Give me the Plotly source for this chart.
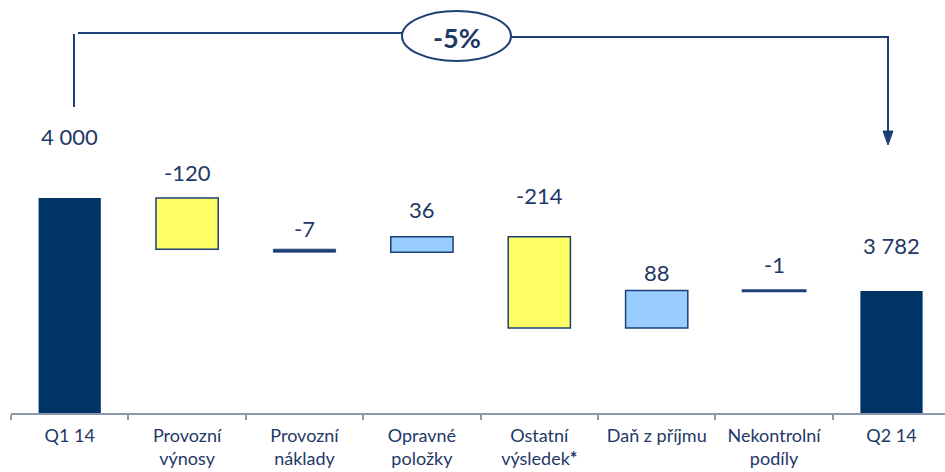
import plotly.graph_objects as go

# Waterfall data: opening balance, changes, closing balance
categories = ["Q1 14", "Provozní<br>výnosy", "Provozní<br>náklady", "Opravné<br>položky",
              "Ostatní<br>výsledek<b>*</b>", "Daň z příjmu", "Nekontrolní<br>podíly", "Q2 14"]
start_value = 4000
changes = [-120, -7, 36, -214, 88, -1]
end_value = 3782
change_label = "-5%"

# Label offsets above each bar top, in pixels
label_shift = [61, 25, 21, 27, 41, 18, 26, 45]

NAVY = "#003366"
TEXT = "#1f3868"
LINE = "#1c3f75"
AXIS = "#8d96ab"
YELLOW = "#ffff66"
LIGHTBLUE = "#99ccff"
FONT = "Lato"

W, H = 945, 472
ML, MB = 11, 59
PW, PH = W - ML, H - MB

# running totals for floating bars
bases = []
running = start_value
for d in changes:
    bases.append(running)
    running += d

fig = go.Figure()

# opening and closing totals
fig.add_trace(go.Bar(
    x=[categories[0], categories[-1]],
    y=[start_value, end_value],
    base=[0, 0],
    width=0.53,
    marker=dict(color=NAVY, line=dict(width=0)),
    hoverinfo="skip",
))

# floating change bars; very small changes collapse into a solid dark line
fills, outline = [], []
for d in changes:
    if abs(d) > 10:
        fills.append(YELLOW if d < 0 else LIGHTBLUE)
        outline.append(1.5)
    elif abs(d) > 3:
        fills.append(LINE)
        outline.append(0.8)
    else:
        fills.append(LINE)
        outline.append(2.6)

fig.add_trace(go.Bar(
    x=categories[1:-1],
    y=changes,
    base=bases,
    width=0.53,
    marker=dict(color=fills, line=dict(color=LINE, width=outline)),
    hoverinfo="skip",
))

# value labels
values = [start_value] + changes + [end_value]
tops = [start_value] + [max(b, b + d) for b, d in zip(bases, changes)] + [end_value]


def fmt(v):
    return f"{v:,}".replace(",", " ")


for cat, v, top, sh in zip(categories, values, tops, label_shift):
    fig.add_annotation(
        x=cat, y=top, yshift=sh, text=fmt(v), showarrow=False,
        xanchor="center", yanchor="middle",
        font=dict(family=FONT, size=22, color=TEXT),
    )


# bracket with change bubble (pixel helpers → paper coords)
def px(x):
    return (x - ML) / PW


def py(y):
    return 1 - y / PH


shapes = [
    dict(type="line", xref="paper", yref="paper", x0=px(74), x1=px(74), y0=py(34), y1=py(107),
         line=dict(color=LINE, width=2)),
    dict(type="line", xref="paper", yref="paper", x0=px(78), x1=px(404), y0=py(33), y1=py(33),
         line=dict(color=LINE, width=2)),
    dict(type="line", xref="paper", yref="paper", x0=px(509), x1=px(889), y0=py(37), y1=py(37),
         line=dict(color=LINE, width=2.2)),
    dict(type="line", xref="paper", yref="paper", x0=px(888), x1=px(888), y0=py(36), y1=py(133),
         line=dict(color=LINE, width=2)),
    dict(type="path", xref="paper", yref="paper",
         path=f"M {px(883)} {py(131)} L {px(893)} {py(131)} L {px(888)} {py(145)} Z",
         fillcolor=LINE, line=dict(color=LINE, width=1)),
    dict(type="circle", xref="paper", yref="paper", x0=px(402), x1=px(511), y0=py(61), y1=py(11),
         fillcolor="white", line=dict(color=LINE, width=2)),
]
fig.update_layout(shapes=shapes)

fig.add_annotation(
    xref="paper", yref="paper", x=px(457), y=py(37), text=f"<b>{change_label}</b>",
    showarrow=False, xanchor="center", yanchor="middle",
    font=dict(family=FONT, size=27, color=TEXT),
)

fig.update_layout(
    width=W, height=H,
    margin=dict(l=ML, r=0, t=0, b=MB, pad=0),
    paper_bgcolor="white", plot_bgcolor="white",
    showlegend=False,
    barmode="overlay",
    xaxis=dict(
        type="category", categoryorder="array", categoryarray=categories,
        range=[-0.5, -0.5 + PW / 117.4],
        tickson="boundaries", ticks="outside", ticklen=5, tickwidth=1.5, tickcolor=AXIS,
        ticklabelstandoff=5,
        showline=True, linecolor=AXIS, linewidth=2,
        showgrid=False, zeroline=False,
        tickfont=dict(family=FONT, size=18, color=TEXT),
    ),
    yaxis=dict(range=[3496, 4464], visible=False, showgrid=False, zeroline=False),
)

fig.write_html("out.html")
